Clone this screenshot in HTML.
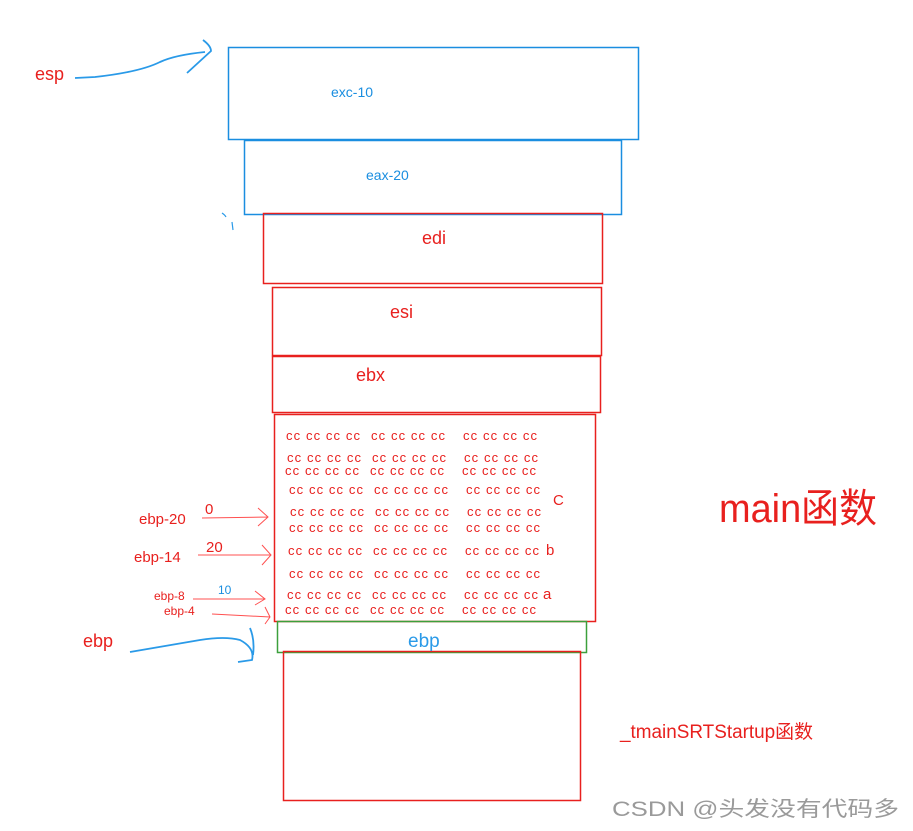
<!DOCTYPE html>
<html><head><meta charset="utf-8"><style>
html,body{margin:0;padding:0;background:#fff;width:913px;height:831px;overflow:hidden}
svg{display:block}
text{font-family:"Liberation Sans","Noto Sans CJK SC",sans-serif}
.cc{fill:#e8201e;font-size:13px}
</style></head><body>
<svg width="913" height="831" viewBox="0 0 913 831" xmlns="http://www.w3.org/2000/svg">
<g fill="none" stroke-width="1.5">
<rect x="228.5" y="47.5" width="410" height="92" stroke="#1a8ee0"/>
<rect x="244.5" y="140.5" width="377" height="74" stroke="#1a8ee0"/>
<rect x="263.5" y="213.5" width="339" height="70" stroke="#e8201e"/>
<rect x="272.5" y="287.5" width="329" height="68" stroke="#e8201e"/>
<rect x="272.5" y="356.5" width="328" height="56" stroke="#e8201e"/>
<rect x="274.5" y="414.5" width="321" height="207" stroke="#e8201e"/>
<rect x="277.5" y="621.5" width="309" height="31" stroke="#3ca03c"/>
<rect x="283.5" y="651.5" width="297" height="149" stroke="#e8201e"/>
<path d="M75 78 L95 77 Q140 72 160 62 Q175 55 205 52 M203 40 Q211 46 211 51 L187 73" stroke="#2a9ae8" stroke-width="1.8"/>
<path d="M222 213 Q225 215 226 217 M232 222 L233 230" stroke="#2a9ae8" stroke-width="1.2"/>
<path d="M130 652 Q170 645 200 640 Q225 636 240 640 Q255 648 252 660 L238 662 M250 628 Q255 640 253 655" stroke="#2a9ae8" stroke-width="1.8"/>
<g stroke="#ff5050" stroke-width="1">
<path d="M202 518 L268 517 M258 508 L268 517 L258 526"/>
<path d="M198 555 L271 555 M262 545 L271 555 L262 565"/>
<path d="M193 599 L265 599 M255 591 L265 599 L255 605"/>
<path d="M212 614 L270 617 M265 607 L270 617 L265 624"/>
</g>
</g>
<text x="331" y="97" fill="#1a8ee0" font-size="14">exc-10</text>
<text x="366" y="180" fill="#1a8ee0" font-size="14">eax-20</text>
<text x="422" y="244" fill="#e8201e" font-size="18">edi</text>
<text x="390" y="318" fill="#e8201e" font-size="18">esi</text>
<text x="356" y="381" fill="#e8201e" font-size="18">ebx</text>
<text x="408" y="647" fill="#2a9ae8" font-size="19">ebp</text>
<text x="35" y="80" fill="#e8201e" font-size="18">esp</text>
<text x="83" y="647" fill="#e8201e" font-size="18">ebp</text>
<text x="139" y="524" fill="#e8201e" font-size="15">ebp-20</text>
<text x="205" y="514" fill="#e8201e" font-size="15">0</text>
<text x="134" y="562" fill="#e8201e" font-size="15">ebp-14</text>
<text x="206" y="552" fill="#e8201e" font-size="15">20</text>
<text x="154" y="600" fill="#e8201e" font-size="12">ebp-8</text>
<text x="218" y="594" fill="#1a8ee0" font-size="12">10</text>
<text x="164" y="615" fill="#e8201e" font-size="12">ebp-4</text>
<text x="553" y="505" fill="#e8201e" font-size="15">C</text>
<text x="546" y="555" fill="#e8201e" font-size="15">b</text>
<text x="543" y="599" fill="#e8201e" font-size="15">a</text>
<g class="cc">
<text x="286" y="440" textLength="74">cc cc cc cc</text><text x="371" y="440" textLength="74">cc cc cc cc</text><text x="463" y="440" textLength="74">cc cc cc cc</text>
<text x="287" y="462" textLength="74">cc cc cc cc</text><text x="372" y="462" textLength="74">cc cc cc cc</text><text x="464" y="462" textLength="74">cc cc cc cc</text>
<text x="285" y="475" textLength="74">cc cc cc cc</text><text x="370" y="475" textLength="74">cc cc cc cc</text><text x="462" y="475" textLength="74">cc cc cc cc</text>
<text x="289" y="494" textLength="74">cc cc cc cc</text><text x="374" y="494" textLength="74">cc cc cc cc</text><text x="466" y="494" textLength="74">cc cc cc cc</text>
<text x="290" y="516" textLength="74">cc cc cc cc</text><text x="375" y="516" textLength="74">cc cc cc cc</text><text x="467" y="516" textLength="74">cc cc cc cc</text>
<text x="289" y="532" textLength="74">cc cc cc cc</text><text x="374" y="532" textLength="74">cc cc cc cc</text><text x="466" y="532" textLength="74">cc cc cc cc</text>
<text x="288" y="555" textLength="74">cc cc cc cc</text><text x="373" y="555" textLength="74">cc cc cc cc</text><text x="465" y="555" textLength="74">cc cc cc cc</text>
<text x="289" y="578" textLength="74">cc cc cc cc</text><text x="374" y="578" textLength="74">cc cc cc cc</text><text x="466" y="578" textLength="74">cc cc cc cc</text>
<text x="287" y="599" textLength="74">cc cc cc cc</text><text x="372" y="599" textLength="74">cc cc cc cc</text><text x="464" y="599" textLength="74">cc cc cc cc</text>
<text x="285" y="614" textLength="74">cc cc cc cc</text><text x="370" y="614" textLength="74">cc cc cc cc</text><text x="462" y="614" textLength="74">cc cc cc cc</text>
</g>
<text x="719" y="522" fill="#e8201e" font-size="40" textLength="158" lengthAdjust="spacingAndGlyphs">main函数</text>
<text x="620" y="738" fill="#e8201e" font-size="19" textLength="193" lengthAdjust="spacingAndGlyphs">_tmainSRTStartup函数</text>
<text x="612" y="816" fill="#9a9a9a" font-size="21" textLength="287" lengthAdjust="spacingAndGlyphs">CSDN @头发没有代码多</text>
</svg>
</body></html>
